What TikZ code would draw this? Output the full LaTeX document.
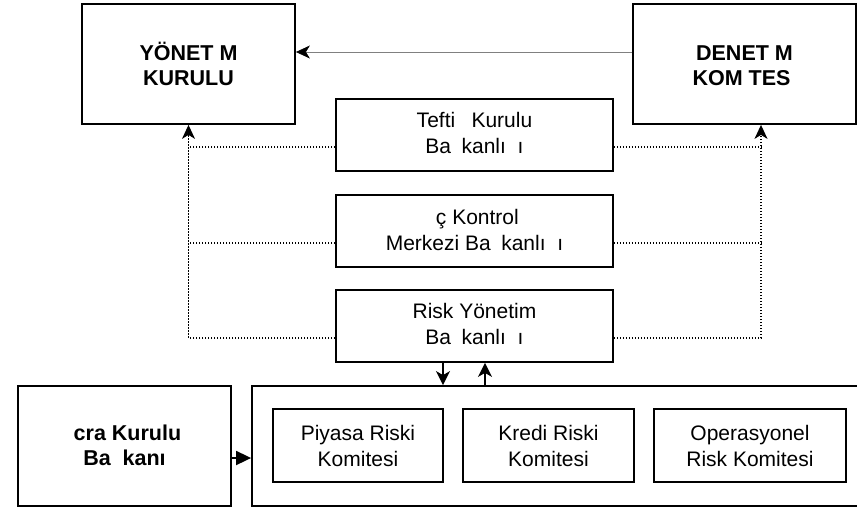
\documentclass[tikz,border=0pt]{standalone}
\usepackage{fontspec}
\setmainfont{Liberation Sans}
\usetikzlibrary{arrows.meta}
\tikzset{
  box/.style={draw, line width=1.8pt, inner sep=0pt, align=center, font=\fontsize{21}{26}\selectfont},
  bbox/.style={box, font=\fontsize{21.5}{25}\selectfont\bfseries},
  dots/.style={line width=1.2pt, dash pattern=on 1.2pt off 1.8pt},
  stl/.style={-{Stealth[length=14pt,width=13pt,inset=4pt,black]}},
  sarr/.style={line width=1.6pt, -{Stealth[length=14pt,width=14pt,inset=4pt]}},
}
\begin{document}
\begin{tikzpicture}[x=1pt,y=-1pt]
\useasboundingbox (0,0) rectangle (857,507);
\clip (0,0) rectangle (857,507);
\node[bbox, minimum width=213pt, minimum height=120pt] (yon) at (188.5,64) {YÖNET\phantom{İ}M\\KURULU};
\node[bbox, minimum width=223pt, minimum height=120pt] (den) at (744.5,64) {DENET\phantom{İ}M\\KOM\phantom{İ}TES\phantom{İ}};
\node[box, minimum width=277pt, minimum height=72pt] (tef) at (474.5,135) {Tefti\phantom{ş} Kurulu\\Ba\phantom{ş}kanlı\phantom{ğ}ı};
\node[box, minimum width=277pt, minimum height=72pt] (ick) at (474.5,231) {\phantom{İ}ç Kontrol\\Merkezi Ba\phantom{ş}kanlı\phantom{ğ}ı};
\node[box, minimum width=277pt, minimum height=72pt] (risk) at (474.5,326) {Risk Yönetim\\Ba\phantom{ş}kanlı\phantom{ğ}ı};
\node[bbox, minimum width=213pt, minimum height=120pt] (icra) at (124.5,446) {\phantom{İ}cra Kurulu\\Ba\phantom{ş}kanı};
\node[draw, line width=1.8pt, minimum width=648pt, minimum height=120pt, inner sep=0pt] (cont) at (576,446) {};
\node[box, minimum width=170pt, minimum height=73pt] (piy) at (358,445.5) {Piyasa Riski\\Komitesi};
\node[box, minimum width=171pt, minimum height=73pt] (kre) at (548.5,445.5) {Kredi Riski\\Komitesi};
\node[box, minimum width=192pt, minimum height=73pt] (ope) at (750,445.5) {Operasyonel\\Risk Komitesi};
\coordinate (dr) at ([xshift=16.5pt]den.south);
% gray arrow
\draw[gray, line width=0.8pt, stl] ([yshift=12pt]den.west) -- ([yshift=12pt]yon.east);
% left dotted
\draw[dots, stl] ([yshift=-12pt]risk.west) -| (yon.south);
\draw[dots] ([yshift=-12pt]tef.west) -- ([yshift=-12pt]tef.west -| yon.south);
\draw[dots] ([yshift=-12pt]ick.west) -- ([yshift=-12pt]ick.west -| yon.south);
% right dotted
\draw[dots, stl] ([yshift=-12pt]risk.east) -| (dr);
\draw[dots] ([yshift=-12pt]tef.east) -- ([yshift=-12pt]tef.east -| dr);
\draw[dots] ([yshift=-12pt]ick.east) -- ([yshift=-12pt]ick.east -| dr);
% risk <-> container
\draw[sarr] ([xshift=-31.5pt]risk.south) -- ([xshift=-31.5pt]risk.south |- cont.north);
\draw[sarr] ([xshift=10.5pt]risk.south |- cont.north) -- ([xshift=10.5pt]risk.south);
% icra -> container
\draw[line width=1.8pt, -{Triangle[length=15pt,width=14pt]}] ([yshift=-12pt]icra.east) -- ([yshift=-12pt]icra.east -| cont.west);
\end{tikzpicture}
\end{document}
